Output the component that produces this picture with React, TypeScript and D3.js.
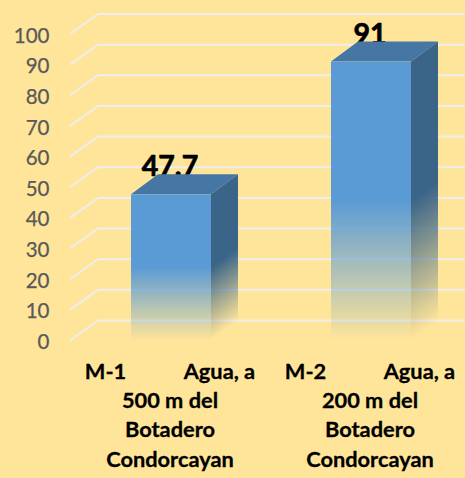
import React, { useEffect, useRef } from 'react';
import * as d3 from 'd3';

const categories = ['M-1', 'M-2'];
const values = [47.7, 91];
const valueLabels = ['47.7', '91'];
const yTicks = [0, 10, 20, 30, 40, 50, 60, 70, 80, 90, 100];
const categoryLines = [
  ['M-1           Agua, a', '500 m del', 'Botadero', 'Condorcayan'],
  ['M-2           Agua, a', '200 m del', 'Botadero', 'Condorcayan'],
];

const W = 465;
const H = 478;
const FONT = 'Lato, "Open Sans", sans-serif';

const App = () => {
  const svgRef = useRef<SVGSVGElement>(null);

  useEffect(() => {
    const svg = d3.select(svgRef.current);
    svg.selectAll('*').remove();

    const depthX = 27;
    const depthY = 20;
    const left = 71;

    const y = d3.scaleLinear().domain([0, 100]).range([340.5, 34]);
    const x = d3.scaleBand().domain(categories).range([left, left + 400]);
    const barW = x.bandwidth() * 0.4;

    // fade to the background on the lower half of each bar
    const defs = svg.append('defs');
    const fade = (id: string, color: string) => {
      const g = defs.append('linearGradient').attr('id', id)
        .attr('x1', 0).attr('y1', 0).attr('x2', 0).attr('y2', 1);
      g.append('stop').attr('offset', '50%').attr('stop-color', color).attr('stop-opacity', 1);
      g.append('stop').attr('offset', '100%').attr('stop-color', color).attr('stop-opacity', 0);
    };
    fade('front', '#5b9bd5');
    fade('side', '#3a6488');

    svg.append('rect').attr('width', W).attr('height', H).attr('fill', '#ffe599');

    // floor + back wall grid
    svg.append('g').selectAll('path').data(yTicks).enter().append('path')
      .attr('d', d => {
        const p = d3.path();
        p.moveTo(left - 1, y(d));
        p.lineTo(left - 1 + depthX + 1, y(d) - depthY);
        p.lineTo(W, y(d) - depthY);
        return p.toString();
      })
      .attr('fill', 'none')
      .attr('stroke', '#eeeeee')
      .attr('stroke-width', 2);

    // y axis
    const axis = svg.append('g')
      .attr('transform', 'translate(49.5,1.5)')
      .call(d3.axisLeft(y).tickValues(yTicks).tickSize(0).tickPadding(0));
    axis.select('.domain').remove();
    axis.selectAll('text')
      .style('font-family', FONT)
      .style('font-size', '20.5px')
      .style('fill', '#595959')
      .style('stroke', '#595959')
      .style('stroke-width', 0.25);

    // data labels go under the bars, the top face cuts them off
    svg.append('g').selectAll('text').data(categories).enter().append('text')
      .attr('x', d => x(d)! + x.bandwidth() / 2 - 1)
      .attr('y', (d, i) => y(values[i]) - depthY + 2)
      .attr('text-anchor', 'middle')
      .style('font-family', FONT)
      .style('font-weight', 700)
      .style('font-size', '28.5px')
      .style('fill', '#000')
      .style('stroke', '#000')
      .style('stroke-width', 0.7)
      .text((d, i) => valueLabels[i]);

    // bars
    const bars = svg.append('g').selectAll('g').data(categories).enter().append('g');
    const x0 = (d: string) => x(d)! + (x.bandwidth() - barW) / 2;

    bars.append('path')
      .attr('d', (d, i) => {
        const top = y(values[i]);
        const p = d3.path();
        p.moveTo(x0(d), top);
        p.lineTo(x0(d) + depthX, top - depthY);
        p.lineTo(x0(d) + depthX + barW, top - depthY);
        p.lineTo(x0(d) + barW, top);
        p.closePath();
        return p.toString();
      })
      .attr('fill', '#4676a3');

    bars.append('rect')
      .attr('x', 0)
      .attr('y', (d, i) => y(values[i]))
      .attr('width', depthX)
      .attr('height', (d, i) => y(0) - y(values[i]))
      .attr('transform', d => `matrix(1,${-depthY / depthX},0,1,${x0(d) + barW},0)`)
      .attr('fill', 'url(#side)');

    bars.append('rect')
      .attr('x', d => x0(d))
      .attr('y', (d, i) => y(values[i]))
      .attr('width', barW)
      .attr('height', (d, i) => y(0) - y(values[i]))
      .attr('fill', 'url(#front)');

    // category labels, wrapped by hand like the original
    const labels = svg.append('g').selectAll('g').data(categories).enter().append('g');
    labels.selectAll('text')
      .data((d, i) => categoryLines[i].map(line => ({ line, cx: x(d)! + x.bandwidth() / 2 - 1 })))
      .enter().append('text')
      .attr('x', d => d.cx)
      .attr('y', (d, i) => 379 + i * 29.2)
      .attr('text-anchor', 'middle')
      .style('white-space', 'pre')
      .style('font-family', FONT)
      .style('font-weight', 700)
      .style('font-size', '21.8px')
      .style('fill', '#000')
      .style('stroke', '#000')
      .style('stroke-width', 0.3)
      .text(d => d.line);
  }, []);

  return (
    <svg
      ref={svgRef}
      width={W}
      height={H}
      style={{ position: 'absolute', left: 0, top: 0, display: 'block' }}
    />
  );
};

export default App;
